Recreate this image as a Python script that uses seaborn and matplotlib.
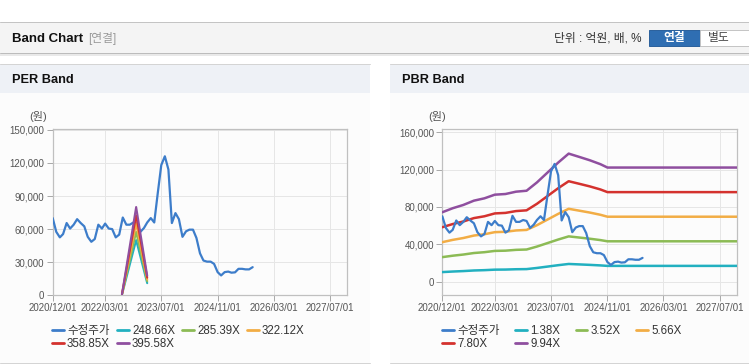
import matplotlib
matplotlib.use("Agg")
import matplotlib.pyplot as plt
import matplotlib.dates as mdates
from matplotlib.patches import Rectangle
from matplotlib.lines import Line2D
from matplotlib.ticker import FuncFormatter
import seaborn as sns
import pandas as pd

# ---------------- data ----------------
price_label = "수정주가"
price_dates = pd.date_range("2020-12-01", periods=58, freq="MS")
price_values = [70000, 57500, 52500, 55500, 65500, 60500, 64000, 69000, 65500, 62500,
                53000, 48500, 51000, 64000, 60500, 65000, 60500, 60000, 52500, 55000,
                70500, 64000, 64000, 66000, 65000, 57500, 61000, 66000, 70000, 66000,
                93000, 118000, 126000, 114000, 65500, 74500, 69000, 53000, 58000, 59500,
                59500, 52000, 38000, 31500, 30500, 30500, 28500, 21000, 18000, 21000,
                21500, 20500, 20800, 24000, 24000, 23500, 23500, 25500]

per_labels = ["248.66X", "285.39X", "322.12X", "358.85X", "395.58X"]
per_dates = pd.to_datetime(["2022-07-25", "2022-11-25", "2023-03-01"])
per_248 = [600, 50000, 11000]
per_285 = [700, 57500, 12700]
per_322 = [800, 65000, 14300]
per_358 = [900, 72500, 16000]
per_395 = [1000, 80000, 17800]

pbr_labels = ["1.38X", "3.52X", "5.66X", "7.80X", "9.94X"]
pbr_dates = pd.to_datetime(["2020-12-01", "2021-03-01", "2021-06-01", "2021-09-01", "2021-12-01",
                            "2022-03-01", "2022-06-01", "2022-09-01", "2022-12-01", "2023-03-01",
                            "2023-06-01", "2023-09-01", "2023-12-01", "2024-03-01", "2024-06-01",
                            "2024-09-01", "2024-11-01", "2027-12-01"])
pbr_138 = [10316, 10912, 11399, 12041, 12386, 12925, 13023, 13369, 13509, 14744,
           16215, 17692, 19016, 18533, 18037, 17457, 16953, 16953]
pbr_352 = [26312, 27833, 29075, 30712, 31592, 32968, 33218, 34102, 34457, 37608,
           41360, 45126, 48506, 47274, 46006, 44528, 43243, 43243]
pbr_566 = [42309, 44754, 46752, 49384, 50799, 53012, 53413, 54834, 55406, 60471,
           66505, 72561, 77995, 76014, 73976, 71599, 69533, 69533]
pbr_780 = [58305, 61675, 64428, 68055, 70005, 73055, 73609, 75566, 76354, 83335,
           91650, 99996, 107484, 104754, 101946, 98670, 95823, 95823]
pbr_994 = [74300, 78600, 82100, 86700, 89200, 93100, 93800, 96300, 97300, 106200,
           116800, 127400, 137000, 133500, 129900, 125700, 122100, 122100]

x_ticks = pd.to_datetime(["2020-12-01", "2022-03-01", "2023-07-01", "2024-11-01",
                          "2026-03-01", "2027-07-01"])
per_yticks = [0, 30000, 60000, 90000, 120000, 150000]
pbr_yticks = [0, 40000, 80000, 120000, 160000]

price_color = "#3d7dca"
band_colors = ["#22b0c0", "#8cbb55", "#f2ad45", "#d4322e", "#8f4f9f"]

# ---------------- frames ----------------
per_df = pd.concat([pd.DataFrame({"date": per_dates, "value": v, "series": l})
                    for l, v in zip(per_labels, [per_248, per_285, per_322, per_358, per_395])])
pbr_df = pd.concat([pd.DataFrame({"date": pbr_dates, "value": v, "series": l})
                    for l, v in zip(pbr_labels, [pbr_138, pbr_352, pbr_566, pbr_780, pbr_994])])
price_df = pd.DataFrame({"date": price_dates, "value": price_values, "series": price_label})

# ---------------- figure ----------------
sns.set_theme(style="white")
plt.rcParams["font.family"] = ["Liberation Sans", "Noto Sans CJK KR", "DejaVu Sans"]

W, H = 749, 364
fig = plt.figure(figsize=(W / 100, H / 100), dpi=100)
fig.patch.set_facecolor("white")


def rect(x0, y0, x1, y1, z=-3, **kw):
    fig.add_artist(Rectangle((x0 / W, 1 - y1 / H), (x1 - x0) / W, (y1 - y0) / H,
                             transform=fig.transFigure, zorder=z, **kw))


def hline(y, x0, x1, color, lw=1.0):
    fig.add_artist(Line2D([x0 / W, x1 / W], [1 - y / H, 1 - y / H],
                          transform=fig.transFigure, color=color, lw=lw * 0.72, zorder=-2))


def ftext(x, y, s, **kw):
    fig.text(x / W, 1 - y / H, s, **kw)


# top header bar
rect(0, 22, W, 53, facecolor="#f4f4f4", edgecolor="none")
hline(22, 0, W, "#c4c4c4")
hline(53, 0, W, "#bcbcbc")
hline(54.5, 0, W, "#e2e2e2", 1.5)
ftext(12, 38.5, "Band Chart", fontsize=9.5, fontweight="bold", color="#111111", va="center")
ftext(88, 38.5, "[연결]", fontsize=8.5, color="#9a9a9a", va="center")
ftext(642, 38.5, "단위 : 억원, 배, %", fontsize=8.5, color="#333333", va="center", ha="right")
rect(649, 30, 700, 46, z=-1, facecolor="#2f6eb2", edgecolor="#2a609c", lw=0.7)
rect(700, 30, 752, 46, z=-1, facecolor="white", edgecolor="#c4c4c4", lw=0.7)
ftext(674.5, 38, "연결", fontsize=8.5, fontweight="bold", color="white", va="center", ha="center")
ftext(718.5, 38, "별도", fontsize=8.5, color="#444444", va="center", ha="center")

# panels
for (px0, px1, title) in [(0, 370, "PER Band"), (390, W, "PBR Band")]:
    rect(px0, 64, px1, 93, facecolor="#eef1f6", edgecolor="none")
    rect(px0, 93, px1, 362.5, facecolor="#fcfcfc", edgecolor="none")
    hline(64, px0, px1, "#d4d4d4")
    hline(362.5, px0, px1, "#d4d4d4")
    ftext(px0 + 12, 80, title, fontsize=9.2, fontweight="bold", color="#111111", va="center")

# axes
ax1 = fig.add_axes([52.7 / W, 1 - 295.3 / H, 294.6 / W, 166.6 / H])
ax2 = fig.add_axes([442.3 / W, 1 - 295.3 / H, 295.0 / W, 166.0 / H])

sns.lineplot(data=price_df, x="date", y="value", color=price_color, lw=1.6,
             ax=ax1, legend=False, errorbar=None, zorder=3)
sns.lineplot(data=per_df, x="date", y="value", hue="series", hue_order=per_labels,
             palette=band_colors, lw=1.5, ax=ax1, legend=False, errorbar=None, zorder=4)

sns.lineplot(data=pbr_df, x="date", y="value", hue="series", hue_order=pbr_labels,
             palette=band_colors, lw=1.8, ax=ax2, legend=False, errorbar=None, zorder=3)
sns.lineplot(data=price_df, x="date", y="value", color=price_color, lw=1.6,
             ax=ax2, legend=False, errorbar=None, zorder=4)

fmt = FuncFormatter(lambda v, p: f"{int(round(v)):,}")
for ax, yt, ylim in [(ax1, per_yticks, (0, 151000)), (ax2, pbr_yticks, (-14500, 163000))]:
    ax.set_facecolor("none")
    ax.set_xlim(pd.Timestamp("2020-12-01"), pd.Timestamp("2027-12-01"))
    ax.set_ylim(*ylim)
    ax.set_xticks(x_ticks)
    ax.xaxis.set_major_formatter(mdates.DateFormatter("%Y/%m/%d"))
    ax.set_yticks(yt)
    ax.yaxis.set_major_formatter(fmt)
    ax.set_xlabel("")
    ax.set_ylabel("")
    ax.grid(True, color="#e6e6e6", lw=0.72)
    ax.set_axisbelow(True)
    for s in ax.spines.values():
        s.set_visible(True)
        s.set_color("#c0c0c0")
        s.set_linewidth(0.9)
    ax.tick_params(axis="both", which="major", direction="out", length=4, width=0.7,
                   color="#a8a8a8", labelsize=7, labelcolor="#555555", pad=2)
    ax.tick_params(axis="x", pad=1.8)
    ax.tick_params(left=True, bottom=True)

ftext(38, 117, "(원)", fontsize=8, color="#555555", ha="center", va="center")
ftext(437, 117, "(원)", fontsize=8, color="#555555", ha="center", va="center")

# legends
def make_legend(labels, x0, spacing):
    handles = [Line2D([], [], color=price_color, lw=2)] + \
              [Line2D([], [], color=c, lw=2) for c in band_colors]
    names = [price_label] + labels
    order = [0, 4, 1, 5, 2, 3]
    fig.legend([handles[i] for i in order], [names[i] for i in order],
               loc="upper left", bbox_to_anchor=(x0 / W, 1 - 325 / H), ncol=4,
               frameon=False, fontsize=8.3, handlelength=1.0, handletextpad=0.3,
               columnspacing=spacing, borderpad=0, borderaxespad=0, labelspacing=0.1,
               labelcolor="#333333")

make_legend(per_labels, 52, 0.62)
make_legend(pbr_labels, 442, 1.35)

fig.savefig("out.png", dpi=100, facecolor="white")
